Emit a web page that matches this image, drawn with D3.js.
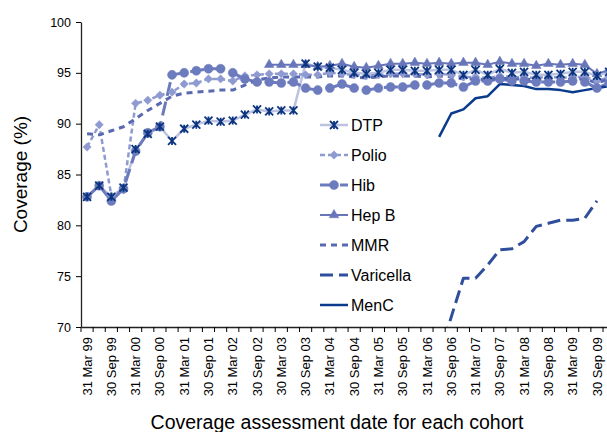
<!DOCTYPE html>
<html>
<head>
<meta charset="utf-8">
<script src="https://cdn.jsdelivr.net/npm/d3@7/dist/d3.min.js"></script>
<style>
    body { margin: 0; background: #fff; }
    svg text { font-family: "Liberation Sans", Arial, sans-serif; fill: #000; }
</style>
</head>
<body>
<svg width="607" height="432"></svg>
<script>
    // quarter end dates (only Mar / Sep are labelled on the axis)
    var quarters = [
        "31 Mar 99","30 Jun 99","30 Sep 99","31 Dec 99",
        "31 Mar 00","30 Jun 00","30 Sep 00","31 Dec 00",
        "31 Mar 01","30 Jun 01","30 Sep 01","31 Dec 01",
        "31 Mar 02","30 Jun 02","30 Sep 02","31 Dec 02",
        "30 Mar 03","30 Jun 03","30 Sep 03","31 Dec 03",
        "31 Mar 04","30 Jun 04","30 Sep 04","31 Dec 04",
        "31 Mar 05","30 Jun 05","30 Sep 05","31 Dec 05",
        "31 Mar 06","30 Jun 06","30 Sep 06","31 Dec 06",
        "31 Mar 07","30 Jun 07","30 Sep 07","31 Dec 07",
        "31 Mar 08","30 Jun 08","30 Sep 08","31 Dec 08",
        "31 Mar 09","30 Jun 09","30 Sep 09","31 Dec 09"
    ];
    var yTicks = [70, 75, 80, 85, 90, 95, 100];

    var dtp = [82.8,83.9,82.8,83.7,87.5,89.0,89.7,88.3,89.5,89.9,
               90.3,90.2,90.3,90.9,91.4,91.2,91.3,91.3,95.9,95.6,
               95.5,95.3,95.0,94.9,95.0,95.3,95.3,95.2,95.2,95.3,
               95.3,94.8,95.3,94.8,95.4,95.0,95.1,94.8,94.8,94.9,
               95.1,95.1,94.7,95.1];
    var polio = [87.7,89.9,82.9,83.5,92.0,92.3,92.8,93.1,93.9,94.0,
                 94.4,94.4,94.2,94.7,94.8,94.9,94.9,94.9,94.8,94.8,
                 95.0,94.9,94.8,94.7,94.8,94.9,94.9,94.9,94.8,94.9,
                 94.8,94.6,94.6,94.5,94.7,94.6,94.6,94.5,94.6,94.5,
                 94.6,94.6,94.2,94.6];
    var hib = [82.8,83.9,82.4,83.6,87.3,89.1,89.7,94.8,95.0,95.2,
               95.4,95.4,95.0,94.4,94.1,94.1,94.0,94.1,93.5,93.3,
               93.5,93.9,93.5,93.3,93.5,93.6,93.6,93.8,93.8,94.0,
               94.0,93.6,94.2,94.2,94.4,94.2,94.2,94.1,94.1,94.1,
               94.2,94.1,93.5,94.0];
    var hepB = [null,null,null,null,null,null,null,null,null,null,
                null,null,null,null,null,95.8,95.8,95.8,95.8,95.6,
                95.7,95.9,95.6,95.5,95.7,95.9,95.9,96.0,95.9,96.0,
                95.9,96.0,96.0,95.8,96.1,95.9,95.9,95.7,95.9,95.8,
                95.9,95.8,94.9,95.3];
    var mmr = [89.0,88.9,89.3,89.7,90.5,91.3,92.0,92.7,93.0,93.1,
               93.2,93.3,93.3,93.8,94.3,94.5,94.6,94.6,94.6,94.6,
               94.7,94.7,94.6,94.5,94.6,94.7,94.7,94.7,94.6,94.7,
               94.6,94.4,94.4,94.3,94.5,94.4,94.4,94.3,94.4,94.3,
               94.4,94.4,94.0,94.4];
    var varicella = [null,null,null,null,null,null,null,null,null,null,
                     null,null,null,null,null,null,null,null,null,null,
                     null,null,null,null,null,null,null,null,null,67.0,
                     71.0,74.8,74.8,76.1,77.6,77.7,78.4,79.9,80.2,80.5,
                     80.5,80.7,82.4,null];
    var menC = [null,null,null,null,null,null,null,null,null,null,
                null,null,null,null,null,null,null,null,null,null,
                null,null,null,null,null,null,null,null,null,88.7,
                91.0,91.4,92.5,92.7,93.9,93.8,93.7,93.4,93.4,93.3,
                93.1,93.3,93.5,93.7];

    // excel style star marker: an X with a vertical bar
    var symbolStar = {
        draw: function(context, size) {
            var r = Math.sqrt(size) / 2;
            context.moveTo(-r, -r); context.lineTo(r, r);
            context.moveTo(-r, r); context.lineTo(r, -r);
            context.moveTo(0, -r); context.lineTo(0, r);
        }
    };
    var symbolSquareDiamond = {
        draw: function(context, size) {
            var r = Math.sqrt(size) / 2;
            context.moveTo(0, -r); context.lineTo(r, 0);
            context.lineTo(0, r); context.lineTo(-r, 0);
            context.closePath();
        }
    };

    var series = [
        {name: "DTP", values: dtp, line: "#bcc3e0", width: 2.5, dash: null,
         marker: symbolStar, msize: 64, mcolor: "#0c3580", stroked: true},
        {name: "Polio", values: polio, line: "#8e9ad0", width: 2.5, dash: "5,3",
         marker: symbolSquareDiamond, msize: 70, mcolor: "#8e9ad0"},
        {name: "Hib", values: hib, line: "#6c7bbd", width: 3, dash: "14,6",
         marker: d3.symbolCircle, msize: 64, mcolor: "#6c7bbd"},
        {name: "Hep B", values: hepB, line: "#6876b9", width: 2, dash: null,
         marker: d3.symbolTriangle, msize: 40, mcolor: "#6876b9"},
        {name: "MMR", values: mmr, line: "#5a6ab1", width: 3, dash: "6,5",
         marker: null},
        {name: "Varicella", values: varicella, line: "#2f4e9c", width: 3, dash: "13,6",
         marker: null},
        {name: "MenC", values: menC, line: "#0a3a8c", width: 2.5, dash: null,
         marker: null}
    ];

    var svg = d3.select("svg"),
        plotLeft = 81,
        plotTop = 22,
        plotBottom = 327,
        step = 12.14,
        plotRight = plotLeft + quarters.length * step;

    var x = d3.scaleBand()
        .domain(quarters)
        .range([plotLeft, plotRight]);

    var y = d3.scaleLinear()
        .domain([70, 100])
        .range([plotBottom, plotTop]);

    svg.append("defs").append("clipPath")
        .attr("id", "plot")
        .append("rect")
        .attr("x", plotLeft)
        .attr("y", plotTop - 10)
        .attr("width", plotRight - plotLeft)
        .attr("height", plotBottom - plotTop + 10);

    var line = d3.line()
        .defined(function(d) { return d.v !== null; })
        .x(function(d) { return x(d.q) + x.bandwidth() / 2; })
        .y(function(d) { return y(d.v); });

    function points(s) {
        return quarters.map(function(q, i) { return {q: q, v: s.values[i]}; });
    }

    var plot = svg.append("g").attr("clip-path", "url(#plot)");

    // lines first
    series.forEach(function(s) {
        plot.append("path")
            .datum(points(s))
            .attr("fill", "none")
            .attr("stroke", s.line)
            .attr("stroke-width", s.width)
            .attr("stroke-dasharray", s.dash)
            .attr("stroke-linejoin", "round")
            .attr("d", line);
    });

    // then markers, DTP stars on top
    series.slice(1).concat([series[0]]).forEach(function(s) {
        if (!s.marker) return;
        var sym = d3.symbol().type(s.marker).size(s.msize);
        plot.selectAll(null)
            .data(points(s).filter(function(d) { return d.v !== null; }))
            .enter().append("path")
            .attr("transform", function(d) {
                return "translate(" + (x(d.q) + x.bandwidth() / 2) + "," + y(d.v) + ")";
            })
            .attr("d", sym)
            .attr("fill", s.stroked ? "none" : s.mcolor)
            .attr("stroke", s.mcolor)
            .attr("stroke-width", s.stroked ? 1.8 : 0.5);
    });

    // y axis
    var yAxis = svg.append("g")
        .attr("transform", "translate(" + plotLeft + ",0)")
        .call(d3.axisLeft(y).tickValues(yTicks).tickSize(5).tickSizeOuter(0).tickPadding(5));
    yAxis.selectAll("text").style("font-size", "12.5px");

    // x axis, labels on Mar / Sep only, ticks between categories
    var xAxis = svg.append("g")
        .attr("transform", "translate(0," + plotBottom + ")")
        .call(d3.axisBottom(x)
            .tickSize(0)
            .tickSizeOuter(0)
            .tickFormat(function(d, i) { return i % 2 === 0 ? d : ""; }));
    xAxis.selectAll("text")
        .style("font-size", "13px")
        .attr("transform", "rotate(-90)")
        .attr("text-anchor", "end")
        .attr("x", -10)
        .attr("y", 0)
        .attr("dy", "0.35em");
    xAxis.selectAll(".sep")
        .data(quarters)
        .enter().append("line")
        .attr("class", "sep")
        .attr("x1", function(d) { return x(d); })
        .attr("x2", function(d) { return x(d); })
        .attr("y1", 0)
        .attr("y2", 5)
        .attr("stroke", "#000");

    svg.selectAll(".domain").attr("stroke", "#222").attr("stroke-width", 1.3);

    // axis titles
    svg.append("text")
        .attr("transform", "translate(20," + ((plotTop + plotBottom) / 2) + ") rotate(-90)")
        .attr("text-anchor", "middle")
        .attr("dy", "0.35em")
        .style("font-size", "19px")
        .text("Coverage (%)");

    svg.append("text")
        .attr("x", 337)
        .attr("y", 422)
        .attr("text-anchor", "middle")
        .attr("dy", "0.35em")
        .style("font-size", "19.5px")
        .text("Coverage assessment date for each cohort");

    // legend
    var legend = svg.append("g").attr("transform", "translate(320,125)");
    series.forEach(function(s, i) {
        var row = legend.append("g").attr("transform", "translate(0," + (i * 30) + ")");
        row.append("line")
            .attr("x1", 0).attr("x2", 28)
            .attr("stroke", s.line)
            .attr("stroke-width", s.width)
            .attr("stroke-dasharray", s.dash);
        if (s.marker) {
            row.append("path")
                .attr("transform", "translate(14,0)")
                .attr("d", d3.symbol().type(s.marker).size(s.msize))
                .attr("fill", s.stroked ? "none" : s.mcolor)
                .attr("stroke", s.mcolor)
                .attr("stroke-width", s.stroked ? 1.8 : 0.5);
        }
        row.append("text")
            .attr("x", 31)
            .attr("dy", "0.35em")
            .style("font-size", "16px")
            .text(s.name);
    });
</script>
</body>
</html>
